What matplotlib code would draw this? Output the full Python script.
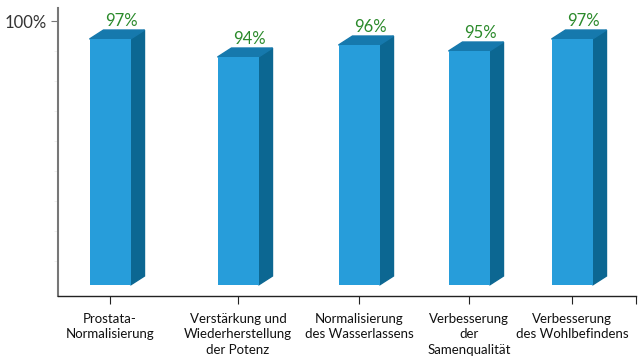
import matplotlib
matplotlib.use("Agg")
import matplotlib.pyplot as plt
from matplotlib.patches import Polygon

# data
categories = ["Prostata-\nNormalisierung",
              "Verstärkung und\nWiederherstellung\nder Potenz",
              "Normalisierung\ndes Wasserlassens",
              "Verbesserung\nder\nSamenqualität",
              "Verbesserung\ndes Wohlbefindens"]
values = [97, 94, 96, 95, 97]

# layout (x in axis units ~ pixels, bar centres are unevenly spaced in the original)
xpos = [52, 180, 301, 411, 514]
bar_w = 41
depth_x = 14
depth_y = 1.5
base = 56

front_c = '#279dda'
side_c = '#0c6792'
top_c = '#1679ad'
green = '#2b8a2b'

plt.rcParams['font.family'] = ['Lato', 'DejaVu Sans']

fig = plt.figure(figsize=(6.4, 3.6), dpi=100)
ax = fig.add_axes([58/640, 64/360, 578/640, 288/360])
ax.set_xlim(0, 578)
ax.set_ylim(54.17, 102.17)

for x, v in zip(xpos, values):
    x0 = x - bar_w/2
    x1 = x + bar_w/2
    ax.bar(x, v - base, bottom=base, width=bar_w, color=front_c, zorder=3)
    # side face
    ax.add_patch(Polygon([(x1, base), (x1 + depth_x, base + depth_y),
                          (x1 + depth_x, v + depth_y), (x1, v)],
                         closed=True, color=side_c, zorder=2))
    # top face
    ax.add_patch(Polygon([(x0, v), (x1, v), (x1 + depth_x, v + depth_y),
                          (x0 + depth_x, v + depth_y)],
                         closed=True, color=top_c, zorder=2))
    ax.annotate(f"{v}%", (x + depth_x*0.85, v + depth_y), xytext=(0, 0.5),
                textcoords='offset points', ha='center', va='bottom',
                color=green, fontsize=12)

ax.spines['top'].set_visible(False)
ax.spines['right'].set_visible(False)
ax.spines['left'].set_color('#777777')
ax.spines['left'].set_linewidth(1.5)
ax.spines['bottom'].set_color('#222222')
ax.spines['bottom'].set_linewidth(1.0)

ax.set_yticks([100])
ax.set_yticklabels(["100%"], fontsize=12, color='#333333')
ax.tick_params(axis='y', length=5, color='#777777', pad=3)
ax.set_yticks([60, 65, 70, 75, 80, 85, 90, 95], minor=True)
ax.tick_params(axis='y', which='minor', length=3, color='#eeeeee')

ax.set_xticks(xpos + [578])
ax.set_xticklabels(categories + [""], fontsize=9.5, color='#111111',
                   linespacing=1.35)
ax.tick_params(axis='x', length=6, color='#222222', pad=6)

fig.savefig("out.png", dpi=100)
